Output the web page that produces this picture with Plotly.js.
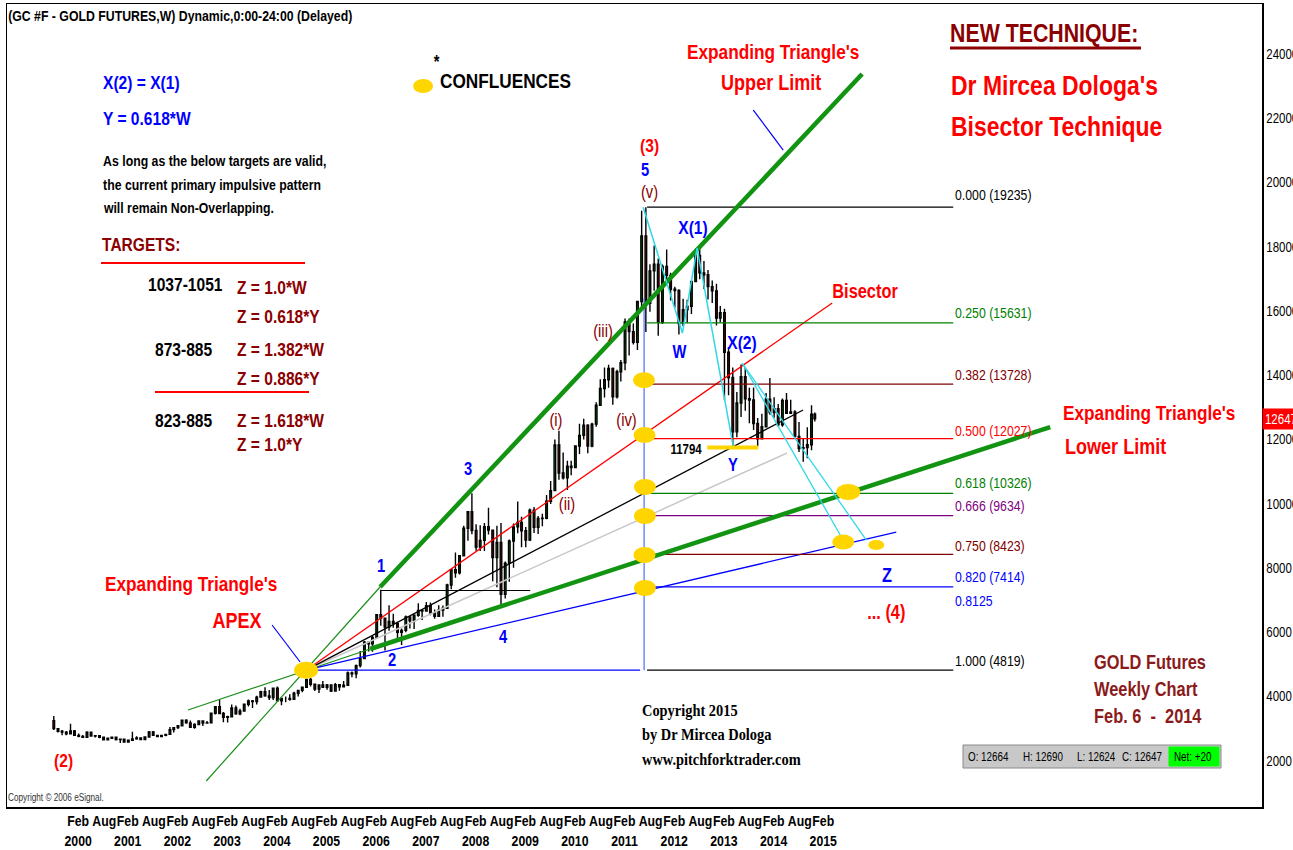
<!DOCTYPE html>
<html><head><meta charset="utf-8">
<script src="https://cdn.plot.ly/plotly-3.0.1.min.js"></script>
<style>html,body{margin:0;padding:0;background:#fff}#chart{width:1293px;height:850px}</style>
</head><body><div id="chart"></div>
<script>
// ---------------- DATA (monthly candles, price x10) ----------------
const months = ["1999-10-15","1999-11-15","1999-12-15",
"2000-01-15","2000-02-15","2000-03-15","2000-04-15","2000-05-15","2000-06-15","2000-07-15","2000-08-15","2000-09-15","2000-10-15","2000-11-15","2000-12-15",
"2001-01-15","2001-02-15","2001-03-15","2001-04-15","2001-05-15","2001-06-15","2001-07-15","2001-08-15","2001-09-15","2001-10-15","2001-11-15","2001-12-15",
"2002-01-15","2002-02-15","2002-03-15","2002-04-15","2002-05-15","2002-06-15","2002-07-15","2002-08-15","2002-09-15","2002-10-15","2002-11-15","2002-12-15",
"2003-01-15","2003-02-15","2003-03-15","2003-04-15","2003-05-15","2003-06-15","2003-07-15","2003-08-15","2003-09-15","2003-10-15","2003-11-15","2003-12-15",
"2004-01-15","2004-02-15","2004-03-15","2004-04-15","2004-05-15","2004-06-15","2004-07-15","2004-08-15","2004-09-15","2004-10-15","2004-11-15","2004-12-15",
"2005-01-15","2005-02-15","2005-03-15","2005-04-15","2005-05-15","2005-06-15","2005-07-15","2005-08-15","2005-09-15","2005-10-15","2005-11-15","2005-12-15",
"2006-01-15","2006-02-15","2006-03-15","2006-04-15","2006-05-15","2006-06-15","2006-07-15","2006-08-15","2006-09-15","2006-10-15","2006-11-15","2006-12-15",
"2007-01-15","2007-02-15","2007-03-15","2007-04-15","2007-05-15","2007-06-15","2007-07-15","2007-08-15","2007-09-15","2007-10-15","2007-11-15","2007-12-15",
"2008-01-15","2008-02-15","2008-03-15","2008-04-15","2008-05-15","2008-06-15","2008-07-15","2008-08-15","2008-09-15","2008-10-15","2008-11-15","2008-12-15",
"2009-01-15","2009-02-15","2009-03-15","2009-04-15","2009-05-15","2009-06-15","2009-07-15","2009-08-15","2009-09-15","2009-10-15","2009-11-15","2009-12-15",
"2010-01-15","2010-02-15","2010-03-15","2010-04-15","2010-05-15","2010-06-15","2010-07-15","2010-08-15","2010-09-15","2010-10-15","2010-11-15","2010-12-15",
"2011-01-15","2011-02-15","2011-03-15","2011-04-15","2011-05-15","2011-06-15","2011-07-15","2011-08-15","2011-09-15","2011-10-15","2011-11-15","2011-12-15",
"2012-01-15","2012-02-15","2012-03-15","2012-04-15","2012-05-15","2012-06-15","2012-07-15","2012-08-15","2012-09-15","2012-10-15","2012-11-15","2012-12-15",
"2013-01-15","2013-02-15","2013-03-15","2013-04-15","2013-05-15","2013-06-15","2013-07-15","2013-08-15","2013-09-15","2013-10-15","2013-11-15","2013-12-15",
"2014-01-15","2014-02-15","2014-03-15","2014-04-15","2014-05-15","2014-06-15","2014-07-15","2014-08-15","2014-09-15","2014-10-15","2014-11-15","2014-12-15",
"2015-01-15","2015-02-08"];

const open = [3250,3000,2920,
2890,2840,2930,2790,2760,2730,2890,2770,2780,2730,2650,2700,
2730,2660,2670,2580,2640,2680,2710,2660,2740,2900,2790,2750,
2790,2820,2970,3030,3090,3260,3180,3040,3130,3240,3170,3180,
3480,3680,3470,3350,3370,3640,3460,3550,3760,3860,3840,3980,
4150,4020,3970,4260,3870,3940,3940,3910,4100,4190,4290,4530,
4380,4230,4360,4290,4360,4170,4370,4300,4350,4730,4710,4960,
5180,5690,5640,5840,6550,6440,6160,6340,6270,6000,6060,6480,
6360,6530,6680,6660,6830,6600,6500,6690,6750,7470,7950,7850,
8380,9240,9750,9170,8650,8860,9290,9180,8330,8800,7180,8150,
8840,9280,9420,9160,8870,9800,9270,9540,9550,10080,10410,11830,
10960,10810,11170,11130,11800,12130,12450,11800,12480,13070,13590,13860,
14210,13330,14110,14390,15660,15360,15030,16300,18340,16240,17250,17460,
15660,17390,17110,16680,16640,15610,16040,16150,16920,17730,17190,17130,
16760,16630,15780,15950,14720,13930,12240,13140,13960,13270,13230,12500,
12020,12400,13260,12840,12960,12460,13220,12820,12860,12100,11720,11750,
11840,12790];

const high = [3390,3000,2960,
2930,3150,2960,2850,2800,2920,2900,2800,2800,2750,2710,2750,
2740,2680,2690,2640,2900,2760,2720,2760,2930,2930,2800,2800,
2840,3050,3040,3110,3270,3290,3250,3170,3260,3260,3240,3490,
3700,3900,3520,3400,3750,3720,3620,3770,3910,3890,4020,4180,
4290,4200,4280,4310,3960,4000,4070,4150,4200,4300,4550,4580,
4400,4370,4480,4390,4370,4420,4390,4480,4780,4780,5000,5420,
5730,5720,5880,6560,7320,6440,6840,6580,6330,6120,6520,6500,
6560,6900,6720,6940,6930,6710,6840,6830,7510,7960,8480,8400,
9320,9760,10330,9360,9330,9400,9880,9200,9320,9400,8200,8890,
9390,10070,9600,9280,9850,9900,9620,9690,10270,10710,12000,12270,
11600,11340,11340,11800,12490,12650,12480,12520,13160,13880,14240,14330,
14240,14170,14480,15770,15770,15610,16320,19120,19235,17460,18040,17640,
17450,17920,17190,16760,16680,16380,16350,16920,17950,17990,17560,17280,
16950,16850,16160,16070,14880,14240,13480,14340,14240,13610,13620,12670,
12800,13450,13920,13320,13110,13280,13450,13240,12910,12550,12050,12380,
13070,12840];

const low = [2960,2880,2790,
2790,2840,2770,2730,2710,2720,2750,2720,2700,2630,2630,2680,
2630,2550,2570,2560,2630,2650,2640,2650,2720,2770,2730,2740,
2760,2810,2880,2990,3070,3150,3030,3000,3120,3080,3150,3160,
3440,3450,3200,3190,3350,3430,3420,3530,3690,3640,3750,3980,
3990,3890,3890,3850,3730,3820,3870,3890,4000,4130,4280,4310,
4170,4110,4270,4210,4140,4150,4180,4280,4340,4600,4570,4900,
5170,5400,5390,5800,6200,5430,6050,6140,5760,5600,6000,6120,
6100,6480,6380,6650,6530,6420,6490,6480,6740,7340,7700,7800,
8380,8850,9050,8540,8530,8530,9040,7590,7400,6820,7050,7570,
8010,9080,8650,8650,8840,9090,9060,9300,9520,9990,10400,10750,
10760,10430,10890,11120,11550,12000,11570,11760,12400,13070,13310,13610,
13080,13280,13810,14160,14620,14960,14790,16150,15350,15980,16630,15230,
15600,16860,16330,16100,15270,15530,15640,15910,16900,16990,16690,16360,
16250,15550,15650,13220,13380,11800,12070,12700,12900,12510,12300,11794,
12020,12380,12770,12680,12400,12400,12820,12810,12060,11610,11310,11420,
11670,12560];

const close = [3000,2920,2890,
2840,2930,2790,2760,2730,2890,2770,2780,2730,2650,2700,2730,
2660,2670,2580,2640,2680,2710,2660,2740,2900,2790,2750,2790,
2820,2970,3030,3090,3260,3180,3040,3130,3240,3170,3180,3480,
3680,3470,3350,3370,3640,3460,3550,3760,3860,3840,3980,4150,
4020,3970,4260,3870,3940,3940,3910,4100,4190,4290,4530,4380,
4230,4360,4290,4360,4170,4370,4300,4350,4730,4710,4960,5180,
5690,5640,5840,6550,6440,6160,6340,6270,6000,6060,6480,6360,
6530,6680,6660,6830,6600,6500,6690,6750,7470,7950,7850,8380,
9240,9750,9170,8650,8860,9290,9180,8330,8800,7180,8150,8840,
9280,9420,9160,8870,9800,9270,9540,9550,10080,10410,11830,10960,
10810,11170,11130,11800,12130,12450,11800,12480,13070,13590,13860,14210,
13330,14110,14390,15660,15360,15030,16300,18340,16240,17250,17460,15660,
17390,17110,16680,16640,15610,16040,16150,16920,17730,17190,17130,16760,
16630,15780,15950,14720,13930,12240,13140,13960,13270,13230,12500,12020,
12400,13260,12840,12960,12460,13220,12820,12860,12100,11720,11750,11840,
12790,12647];

// Fibonacci retracement levels (0 .. 1 from 19235 down to 4819)
const fibRatios = ["0.000","0.250","0.382","0.500","0.618","0.666","0.750","0.820","1.000"];
const fibValues = [19235,15631,13728,12027,10326,9634,8423,7414,4819];
const fibColors = ["#000000","#008000","#800000","#ff0000","#008000","#800080","#800000","#0000ff","#000000"];
const fibSpan = ["2011-09-24","2017-11-22"];

// Tick labels
const yTicks = [2000,4000,6000,8000,10000,12000,14000,16000,18000,20000,22000,24000];
const years = [2000,2001,2002,2003,2004,2005,2006,2007,2008,2009,2010,2011,2012,2013,2014,2015];

// Trend lines (date, value) pairs
const upperThin = {x:["2002-11-09","2006-05-10"], y:[1370,7409]};
const upperThick = {x:["2006-05-10","2016-01-22"], y:[7409,23379]};
const lowerThin = {x:["2002-06-28","2006-02-26"], y:[3580,5479]};
const lowerThick = {x:["2006-02-26","2019-11-05"], y:[5479,12390]};
const bisector = {x:["2004-11-12","2015-06-16"], y:[4819,16250]};
const blackFan = {x:["2004-11-12","2014-11-14"], y:[4819,12919]};
const grayFan = {x:["2004-11-12","2014-07-19"], y:[4819,11580]};
const blueFan = {x:["2004-11-12","2016-09-29"], y:[4819,9121]};
const blueFlat = {x:["2004-11-12","2011-08-04"], y:[4819,4819]};
const wave1Flat = {x:["2006-05-10","2009-05-18"], y:[7300,7300]};
const apexPointer = {x:["2004-03-07","2004-09-29"], y:[6226,5074]};
const upperPointer = {x:["2013-11-13","2014-06-21"], y:[22258,21013]};
const vertical = {x:["2011-09-02","2011-09-02"], y:[16400,4819]};
const wxy = {x:["2011-08-26","2012-06-10","2012-09-26","2013-06-18"], y:[19235,15316,17962,11794]};
const cyanA = {x:["2013-08-23","2015-08-14"], y:[14382,9028]};
const cyanB = {x:["2013-08-23","2016-02-22"], y:[14382,8872]};
const yLow = {x:["2012-12-09","2013-12-19"], y:[11750,11750]};

// Confluence markers [date, value, widthPx, heightPx]
const confluences = [
 ["2011-09-01",13850,22,16],["2011-09-05",12140,22,16],["2011-09-08",10522,22,16],
 ["2011-09-08",9619,22,16],["2011-09-05",8405,22,16],["2011-09-08",7378,22,16],
 ["2015-10-12",10366,24,16],["2015-09-05",8810,22,15],["2016-05-05",8716,16,10],
 ["2004-11-12",4819,24,17],["2007-03-22",23005,20,14]];

// ---------------- RENDER ----------------
const F = "'Liberation Sans Narrow','Arial Narrow','Liberation Sans',Arial,sans-serif";
const SERIF = "'Liberation Serif','Times New Roman',serif";
const RED = "#ff0000", MAROON = "#8b0000", BLUE = "#0000ff";
const NARROW = 0.82;
const L = 7, R = 1262, T = 4, B = 807;
const px = x => (x - L) / (R - L);
const py = y => (B - y) / (B - T);

const traces = [{
  type:'candlestick', x:months, open:open, high:high, low:low, close:close,
  increasing:{line:{color:'#000', width:1.4}, fillcolor:'#00c800'},
  decreasing:{line:{color:'#000', width:1.4}, fillcolor:'#ff0000'},
  hoverinfo:'skip', showlegend:false
}];
function line(o, color, width){
  traces.push({type:'scatter', mode:'lines', x:o.x, y:o.y, line:{color:color, width:width}, hoverinfo:'skip', showlegend:false});
}
line(upperThin, '#1a8f1a', 1.2);
line(lowerThin, '#1a8f1a', 1.2);
line(grayFan, '#c8c8c8', 1.5);
line(blackFan, '#000', 1.3);
line(bisector, RED, 1.3);
line(blueFan, BLUE, 1.3);
line(blueFlat, BLUE, 1.3);
line(wave1Flat, '#000', 1.2);
fibValues.forEach((v,i)=>line({x:fibSpan, y:[v,v]}, fibColors[i], 1.3));
line(vertical, '#4a6cff', 1.2);
line(upperThick, '#129412', 4.5);
line(lowerThick, '#129412', 4.5);
line(wxy, '#30d8e8', 1.5);
line(cyanA, '#30d8e8', 1.3);
line(cyanB, '#30d8e8', 1.3);
line(apexPointer, BLUE, 1.2);
line(upperPointer, BLUE, 1.2);
line(yLow, '#ffd500', 4);

const shapes = [];
confluences.forEach(c => shapes.push({type:'circle', xref:'x', yref:'y', xsizemode:'pixel', ysizemode:'pixel',
  xanchor:c[0], yanchor:c[1], x0:-c[2]/2, x1:c[2]/2, y0:-c[3]/2, y1:c[3]/2,
  fillcolor:'#ffd500', line:{width:0}, layer:'above'}));
function pline(x0,y0,x1,y1,color,w){ shapes.push({type:'line', xref:'paper', yref:'paper', x0:px(x0), y0:py(y0), x1:px(x1), y1:py(y1), line:{color:color, width:w}}); }
function prect(x0,y0,x1,y1,fill,lc){ shapes.push({type:'rect', xref:'paper', yref:'paper', x0:px(x0), y0:py(y0), x1:px(x1), y1:py(y1), fillcolor:fill, line:{color:lc||fill, width:1}}); }
pline(101,263,305,263,RED,2);
pline(155,392,309,392,RED,2);
pline(950,48,1141,48,MAROON,3);
prect(963,745,1221,768,'#c8c8c8','#8a8a8a');
prect(1169,747,1219,766,'#00ff00');

const ann = [], squeeze = [];
function A(x,y,text,color,size,opts){
  opts = opts || {};
  ann.push({xref:'paper', yref:'paper', x:px(x), y:py(y), text:(opts.bold===false? text : '<b>'+text+'</b>'),
    showarrow:false, xanchor:opts.anchor||'left', yanchor:'middle',
    font:{family:opts.family||F, size:size, color:color}});
  squeeze.push(opts.sq || NARROW);
}
A(6,16,"(GC #F - GOLD FUTURES,W) Dynamic,0:00-24:00 (Delayed)","#000",15);
A(101,83,"X(2) = X(1)",BLUE,19);
A(101,118,"Y = 0.618*W",BLUE,19);
A(101,160,"As long as the below targets are valid,","#000",15);
A(101,184,"the current primary impulsive pattern","#000",15);
A(101,207,"will remain Non-Overlapping.","#000",15);
A(100,245,"TARGETS:",MAROON,19);
A(146,285,"1037-1051","#000",19);
A(235,287,"Z = 1.0*W",MAROON,19);
A(235,316,"Z = 0.618*Y",MAROON,19);
A(153,350,"873-885","#000",19);
A(235,350,"Z = 1.382*W",MAROON,19);
A(235,378,"Z = 0.886*Y",MAROON,19);
A(153,420,"823-885","#000",19);
A(235,420,"Z = 1.618*W",MAROON,19);
A(235,444,"Z = 1.0*Y",MAROON,19);
A(191,583,"Expanding Triangle's",RED,21,{anchor:'center'});
A(237,620,"APEX",RED,22,{anchor:'center'});
A(63,760,"(2)",RED,19,{anchor:'center'});
A(6,797,"Copyright © 2006 eSignal.","#333",10,{bold:false});
A(436,62,"*","#000",18,{anchor:'center'});
A(438,80,"CONFLUENCES","#000",21);
A(773,51,"Expanding Triangle's",RED,21,{anchor:'center'});
A(771,82,"Upper Limit",RED,22,{anchor:'center'});
A(948,33,"NEW TECHNIQUE:",MAROON,26);
A(949,86,"Dr Mircea Dologa's",RED,28);
A(949,126,"Bisector Technique",RED,28);
A(650,145,"(3)",RED,19,{anchor:'center'});
A(645,170,"5",BLUE,18,{anchor:'center'});
A(650,192,"(v)",MAROON,18,{anchor:'center',bold:false});
A(693,227,"X(1)",BLUE,19,{anchor:'center'});
A(865,291,"Bisector",RED,20,{anchor:'center'});
A(603,331,"(iii)",MAROON,18,{anchor:'center',bold:false});
A(679,352,"W",BLUE,18,{anchor:'center'});
A(742,342,"X(2)",BLUE,19,{anchor:'center'});
A(556,420,"(i)",MAROON,18,{anchor:'center',bold:false});
A(626,420,"(iv)",MAROON,18,{anchor:'center',bold:false});
A(567,504,"(ii)",MAROON,18,{anchor:'center',bold:false});
A(468,469,"3",BLUE,18,{anchor:'center'});
A(381,566,"1",BLUE,18,{anchor:'center'});
A(392,660,"2",BLUE,18,{anchor:'center'});
A(503,637,"4",BLUE,18,{anchor:'center'});
A(686,449,"11794","#000",14,{anchor:'center'});
A(733,465,"Y",BLUE,18,{anchor:'center'});
A(1061,412,"Expanding Triangle's",RED,21);
A(1063,446,"Lower Limit",RED,22);
const fibLabelY = [195,312,375,430,483,505,545,576,660];
const fibLabelVals = ["19235","15631","13728","12027","10326","9634","8423","7414","4819"];
fibRatios.forEach((r,i)=>A(953,fibLabelY[i], r+" ("+fibLabelVals[i]+")", fibColors[i], 15, {bold:false}));
A(953,600,"0.8125",BLUE,15,{bold:false});
A(887,575,"Z",BLUE,20,{anchor:'center'});
A(886,612,"... (4)",RED,20,{anchor:'center'});
A(640,711,"Copyright 2015","#000",16,{family:SERIF, sq:0.9});
A(640,735,"by Dr Mircea Dologa","#000",16,{family:SERIF, sq:0.9});
A(640,760,"www.pitchforktrader.com","#000",16,{family:SERIF, sq:0.9});
A(1092,662,"GOLD Futures","#8b1a1a",20);
A(1092,689,"Weekly Chart","#8b1a1a",20);
A(1092,716,"Feb. 6  -  2014","#8b1a1a",20);
A(966,757,"O: 12664","#000",12,{bold:false});
A(1021,757,"H: 12690","#000",12,{bold:false});
A(1075,757,"L: 12624","#000",12,{bold:false});
A(1120,757,"C: 12647","#000",12,{bold:false});
A(1172,757,"Net: +20","#000",12,{bold:false});
ann.push({xref:'paper', yref:'y', x:1, y:close[close.length-1], xanchor:'left', yanchor:'middle', showarrow:false,
  text:String(close[close.length-1]), bgcolor:'#ff0000', borderpad:2, font:{family:F, size:14, color:'#fff'}});
squeeze.push(NARROW);

// x tick labels: in the original the text starts at the tick, so the label anchor is shifted right
const tickvals = [], ticktext = [];
years.forEach(y => {
  tickvals.push(y+"-04-11"); ticktext.push("<b>Feb<br>"+y+"</b>");
  if (y < 2015) { tickvals.push(y+"-10-20"); ticktext.push("<b>Aug</b>"); }
});

const layout = {
  width:1293, height:850, margin:{l:L, r:1293-R, t:T, b:850-B},
  paper_bgcolor:'#fff', plot_bgcolor:'#fff', showlegend:false,
  xaxis:{type:'date', range:["1998-11-05","2024-02-09"], showgrid:false, zeroline:false,
    showline:true, mirror:true, linecolor:'#000', linewidth:1.5,
    tickmode:'array', tickvals:tickvals, ticktext:ticktext, ticks:'', tickangle:0,
    tickfont:{family:F, size:15, color:'#000'}, rangeslider:{visible:false}, fixedrange:true},
  yaxis:{side:'right', range:[560,25560], showgrid:false, zeroline:false,
    showline:true, mirror:true, linecolor:'#000', linewidth:1.5,
    tickmode:'array', tickvals:yTicks, ticktext:yTicks.map(String), ticks:'',
    tickfont:{family:F, size:14, color:'#000'}, fixedrange:true},
  shapes:shapes, annotations:ann
};

// Narrow-font look: horizontally condense rendered texts (Arial Narrow is ~82% of Arial width)
function condense(el, s, mode){
  const bb = el.getBBox();
  const ax = mode==='left' ? bb.x : (mode==='right' ? bb.x+bb.width : bb.x+bb.width/2);
  const old = el.getAttribute('transform') || '';
  el.setAttribute('transform', (old+' translate('+ax+',0) scale('+s+',1) translate('+(-ax)+',0)').trim());
}
Plotly.newPlot('chart', traces, layout, {staticPlot:true, displayModeBar:false}).then(gd => {
  gd.querySelectorAll('g.annotation').forEach(g => {
    const i = +g.getAttribute('data-index');
    const t = g.querySelector('text.annotation-text');
    if (t && ann[i]) condense(t, squeeze[i], ann[i].xanchor);
  });
  gd.querySelectorAll('g.xtick text').forEach(t => condense(t, NARROW, 'center'));
  gd.querySelectorAll('g.ytick text').forEach(t => condense(t, NARROW, 'left'));
});
</script></body></html>
